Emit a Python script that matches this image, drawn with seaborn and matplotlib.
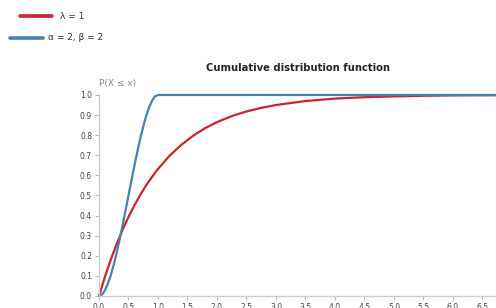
import matplotlib
matplotlib.use("Agg")
import matplotlib.pyplot as plt
from matplotlib.lines import Line2D
import pandas as pd
import seaborn as sns

# values
exp_x = [0, 0.1, 0.2, 0.3, 0.4, 0.5, 0.6, 0.7, 0.8, 0.9, 1.0, 1.2, 1.4, 1.6,
         1.8, 2.0, 2.25, 2.5, 2.75, 3.0, 3.5, 4.0, 4.5, 5.0, 5.5, 6.0, 6.75]
exp_y = [0, 0.095, 0.181, 0.259, 0.330, 0.393, 0.451, 0.503, 0.551, 0.593,
         0.632, 0.699, 0.753, 0.798, 0.835, 0.865, 0.895, 0.918, 0.936, 0.950,
         0.970, 0.982, 0.989, 0.993, 0.996, 0.998, 0.999]
beta_x = [0, 0.05, 0.1, 0.15, 0.2, 0.25, 0.3, 0.35, 0.4, 0.45, 0.5, 0.55, 0.6,
          0.65, 0.7, 0.75, 0.8, 0.85, 0.9, 0.95, 1.0, 6.75]
beta_y = [0, 0.007, 0.028, 0.061, 0.104, 0.156, 0.216, 0.282, 0.352, 0.425,
          0.5, 0.575, 0.648, 0.718, 0.784, 0.844, 0.896, 0.939, 0.972, 0.993,
          1.0, 1.0]
labels = ["λ = 1", "α = 2, β = 2"]
colors = ["#c9252c", "#4a80ab"]
x_ticks = [0.0, 0.5, 1.0, 1.5, 2.0, 2.5, 3.0, 3.5, 4.0, 4.5, 5.0, 5.5, 6.0, 6.5]
y_ticks = [0.0, 0.1, 0.2, 0.3, 0.4, 0.5, 0.6, 0.7, 0.8, 0.9, 1.0]

df = pd.concat([
    pd.DataFrame({"x": exp_x, "y": exp_y, "dist": labels[0]}),
    pd.DataFrame({"x": beta_x, "y": beta_y, "dist": labels[1]}),
])

sns.set_style("white")
plt.rcParams["font.family"] = ["DejaVu Sans"]

fig = plt.figure(figsize=(4.96, 3.08), dpi=100)
ax = fig.add_axes([0.1996, 0.039, 0.8004, 0.6526])
sns.lineplot(data=df, x="x", y="y", hue="dist", palette=colors, sort=False,
             linewidth=1.6, legend=False, ax=ax, clip_on=False)

ax.set_xlim(0, 6.73)
ax.set_ylim(0, 1)
ax.set_xticks(x_ticks)
ax.set_yticks(y_ticks)
ax.set_xticklabels([f"{t:.1f}" for t in x_ticks])
ax.set_yticklabels([f"{t:.1f}" for t in y_ticks])
ax.tick_params(labelsize=5.5, colors="#bbbbbb", labelcolor="#444444",
               length=3, width=0.8, pad=2)
ax.tick_params(axis="x", direction="out", bottom=True)
ax.tick_params(axis="y", direction="out", left=True)
ax.set_xlabel("")
ax.set_ylabel("")
for side in ["top", "right"]:
    ax.spines[side].set_visible(False)
for side in ["left", "bottom"]:
    ax.spines[side].set_color("#cccccc")
    ax.spines[side].set_linewidth(1.0)

ax.text(0.0, 1.035, "P(X ≤ x)", transform=ax.transAxes, fontsize=6.5,
        color="#888888", ha="left", va="bottom")
ax.set_title("Cumulative distribution function", fontsize=7.2,
             fontweight="bold", pad=17)

# legend drawn at the top left, like the reference
leg = [(0.040, 0.105, 0.948, labels[0], colors[0], 0.121),
       (0.020, 0.087, 0.877, labels[1], colors[1], 0.097)]
for x0, x1, yy, txt, col, tx in leg:
    fig.add_artist(Line2D([x0, x1], [yy, yy], color=col, linewidth=2.6,
                          transform=fig.transFigure))
    fig.text(tx, yy, txt, fontsize=6.5, color="#333333", va="center")

fig.savefig("out.png", dpi=100)
